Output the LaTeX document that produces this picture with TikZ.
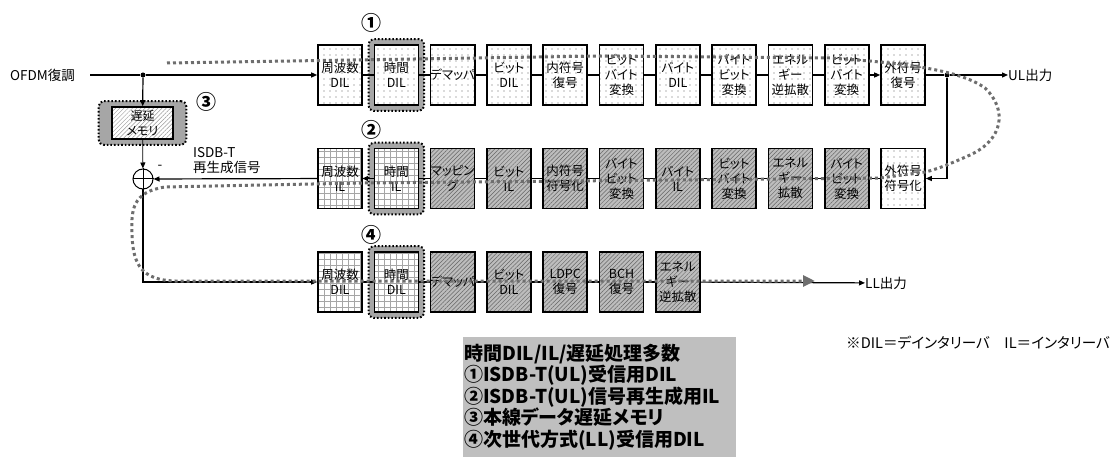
\documentclass[tikz,border=0pt]{standalone}
\usepackage{fontspec}
\setmainfont{Noto Sans CJK JP}[RawFeature=+palt]
\usetikzlibrary{positioning, arrows.meta, patterns.meta, fit, backgrounds, calc}
\definecolor{flowgray}{HTML}{6E6E6E}
\definecolor{hlgray}{HTML}{A6A6A6}
\definecolor{legendgray}{HTML}{BFBFBF}
\definecolor{hatchgray}{HTML}{BDBDBD}

\tikzset{
  blk/.style={draw, line width=1.6pt, minimum width=44pt, minimum height=60pt,
              inner sep=0pt, align=center, font=\fontsize{12.5}{15}\selectfont},
  dotblk/.style={blk, preaction={fill=white},
                 pattern={Dots[distance=6pt, radius=0.6pt]}, pattern color=black!60},
  gridblk/.style={blk, preaction={fill=white},
                  pattern={Hatch[distance=6pt, angle=0, line width=0.4pt]}, pattern color=black!35},
  hatchblk/.style={blk, preaction={fill=hatchgray},
                   pattern={Lines[distance=3pt, angle=45, line width=0.5pt]}, pattern color=black!60},
  hlbox/.style={draw, fill=hlgray, rounded corners=5pt, line width=2pt,
                dash pattern=on 1.6pt off 2pt, inner sep=5pt},
  wire/.style={line width=1.2pt},
  thinwire/.style={line width=0.8pt},
  flow/.style={draw=flowgray, line width=3pt, dash pattern=on 3pt off 3pt},
  num/.style={font=\bfseries\fontsize{20}{20}\selectfont, inner sep=0pt},
  lbl/.style={font=\fontsize{13.5}{15}\selectfont, inner sep=0pt},
  jdot/.style={circle, fill, inner sep=0pt, minimum size=5pt},
  >={Triangle[length=6pt, width=5pt]}
}

\begin{document}
\begin{tikzpicture}[x=1pt, y=-1pt]
  \useasboundingbox (0,0) rectangle (1119,457);

  % upper row: ISDB-T (UL) receiving
  \foreach \i/\txt in {1/{周波数\\DIL}, 2/{時間\\DIL}, 3/{デマッパ}, 4/{ビット\\DIL},
      5/{内符号\\復号}, 6/{ビット\\バイト\\変換}, 7/{バイト\\DIL}, 8/{バイト\\ビット\\変換},
      9/{エネル\\ギー\\逆拡散}, 10/{ビット\\バイト\\変換}, 11/{外符号\\復号}}
    \node[dotblk] (t\i) at ({340+56.3*(\i-1)},75) {\txt};

  % middle row: ISDB-T regeneration
  \foreach \i/\s/\txt in {1/gridblk/{周波数\\IL}, 2/gridblk/{時間\\IL}, 3/hatchblk/{マッピン\\グ},
      4/hatchblk/{ビット\\IL}, 5/hatchblk/{内符号\\符号化}, 6/hatchblk/{バイト\\ビット\\変換},
      7/hatchblk/{バイト\\IL}, 8/hatchblk/{ビット\\バイト\\変換}, 9/hatchblk/{エネル\\ギー\\拡散},
      10/hatchblk/{バイト\\ビット\\変換}, 11/dotblk/{外符号\\符号化}}
    \node[\s] (m\i) at ({340+56.3*(\i-1)},178.5) {\txt};

  % lower row: LL receiving
  \foreach \i/\s/\txt in {1/gridblk/{周波数\\DIL}, 2/gridblk/{時間\\DIL}, 3/hatchblk/{デマッパ},
      4/hatchblk/{ビット\\DIL}, 5/hatchblk/{LDPC\\復号}, 6/hatchblk/{BCH\\復号},
      7/hatchblk/{エネル\\ギー\\逆拡散}}
    \node[\s] (b\i) at ({340+56.3*(\i-1)},282) {\txt};

  % delay memory and adder
  \node[draw, line width=1.6pt, minimum width=61pt, minimum height=32pt, inner sep=0pt,
        preaction={fill=white}, pattern={Lines[distance=3pt, angle=45, line width=0.5pt]},
        pattern color=black!40, align=center, font=\fontsize{12}{15}\selectfont]
        (mem) at (142.5,123) {遅延\\メモリ};
  \node[circle, draw, line width=1pt, minimum size=20pt, inner sep=0pt] (sum) at (143,179) {};
  \draw[line width=1pt] (sum.north) -- (sum.south) (sum.west) -- (sum.east);

  \begin{scope}[on background layer]
    \node[hlbox, fit=(t2)] {};
    \node[hlbox, fit=(m2)] {};
    \node[hlbox, fit=(b2)] {};
    \node[hlbox, fit=(mem), inner xsep=12.5pt, inner ysep=5pt] {};
  \end{scope}

  % labels
  \node[lbl, anchor=west] (ofdm) at (10,75) {OFDM復調};
  \node[lbl, anchor=west, align=left] (isdb) at (193,161) {ISDB-T\\再生成信号};
  \node[lbl] (minus) at (160,167) {-};
  \node[lbl, anchor=west] (ul) at (1008,75) {UL出力};
  \node[lbl, anchor=west] (ll) at (865,283) {LL出力};
  \node[num] (n1) at (371,23) {①};
  \node[num] (n2) at (371,130) {②};
  \node[num] (n3) at (206,102) {③};
  \node[num] (n4) at (371,235) {④};

  % connectors
  \coordinate (src) at (90,75);
  \node[jdot] (j1) at (143,75) {};
  \node[jdot] (j2) at (947,75) {};
  \draw[wire] (src) -- (j1);
  \draw[wire,->] (j1) -- (t1);
  \draw[wire,->] (j1) -- (mem);
  \draw[thinwire,->] (mem) -- (sum);
  \foreach \i [count=\j from 2] in {1,...,9}
    \draw[wire] (t\i) -- (t\j);
  \draw[wire,->] (t10) -- (t11);
  \draw[wire] (t11) -- (j2);
  \draw[wire,->] (j2) -- (ul);
  \draw[wire,->] (j2) |- (m11);
  \foreach \i [count=\j from 3] in {2,...,10}
    \draw[wire] (m\i) -- (m\j);
  \draw[wire,->] (m2) -- (m1);
  \draw[wire,->] (m1) -- (sum);
  \draw[wire,->] (sum) |- (b1);
  \foreach \i [count=\j from 2] in {1,...,6}
    \draw[wire] (b\i) -- (b\j);
  \draw[wire,->] (b7) -- (ll);

  % signal route
  \draw[flow, -{Triangle[length=12pt, width=11pt]}] (167,63) -- (600,56) -- (830,58)
    .. controls (905,63) and (960,70) .. (985,88)
    .. controls (1008,110) and (1003,140) .. (970,155)
    .. controls (950,164) and (935,170) .. (925,172)
    -- (880,178) -- (362,183) -- (165,187)
    .. controls (132,192) and (131,210) .. (132,235)
    .. controls (133,265) and (142,280) .. (175,281) -- (815,281);

  % legend
  \node[anchor=north west, fill=legendgray, inner sep=1pt, minimum width=273pt,
        minimum height=120pt, text width=271pt, align=left,
        font=\bfseries\fontsize{19}{21.5}\selectfont] (legend) at (463,337)
        {時間DIL/IL/遅延処理多数\\①ISDB-T(UL)受信用DIL\\②ISDB-T(UL)信号再生成用IL\\③本線データ遅延メモリ\\④次世代方式(LL)受信用DIL};
  \node[anchor=west, font=\fontsize{14.6}{15}\selectfont, inner sep=0pt] (note) at (846,343)
        {※DIL＝デインタリーバ\quad IL＝インタリーバ};
\end{tikzpicture}
\end{document}
